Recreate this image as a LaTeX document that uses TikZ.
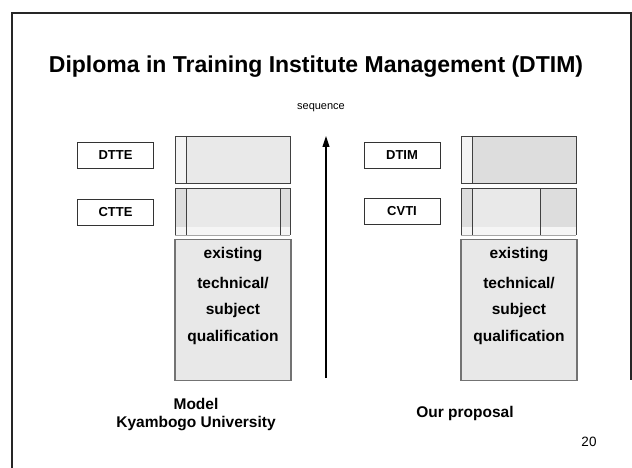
\documentclass[tikz,border=0pt]{standalone}
\usepackage{fontspec}
\setmainfont{Liberation Sans}
\usetikzlibrary{arrows.meta}
\begin{document}
\begin{tikzpicture}[x=1pt,y=-1pt,
  label box/.style={draw=black!80,line width=0.9pt,fill=white,minimum width=76pt,minimum height=26pt,inner sep=0pt,font=\bfseries\fontsize{13}{15}\selectfont},
  light/.style={fill=gray!9},
  mid/.style={fill=gray!17},
  dark/.style={fill=gray!27},
  bar edge/.style={draw=black!75,line width=0.8pt},
  base box/.style={draw=black!55,line width=1.2pt,fill=gray!18},
  qual/.style={font=\bfseries\fontsize{15.5}{18}\selectfont},
  caption/.style={font=\bfseries\fontsize{15.5}{18}\selectfont,align=center}]
\useasboundingbox (0,0) rectangle (632,468);
% slide frame
\draw[line width=1.4pt,black!85] (12,468) -- (12,13) -- (631,13) -- (631,380);
% title
\node[font=\bfseries\fontsize{23}{26}\selectfont] (title) at (316,67) {Diploma in Training Institute Management (DTIM)};
\node[font=\fontsize{11}{13}\selectfont] (seq) at (321,108) {sequence};
% sequence arrow
\coordinate (arrowfoot) at (326,378);
\coordinate (arrowtip) at (326,136);
\draw[line width=1.1pt,-{Triangle[length=11pt,width=7pt]}] (arrowfoot) -- (arrowtip);

% ---- left column: model ----
\node[label box] (dtte) at (115.5,155.5) {DTTE};
\node[label box] (ctte) at (115.5,212) {CTTE};
% DTTE bar
\path[light] (175,136) rectangle (186,183);
\path[mid] (186,136) rectangle (290,183);
\draw[bar edge] (175,136) rectangle (290,183);
\draw[bar edge] (186,136) -- (186,183);
% CTTE bar
\path[dark] (175,188) rectangle (186,227);
\path[mid] (186,188) rectangle (280,227);
\path[dark] (280,188) rectangle (290,227);
\path[fill=gray!8] (175,227) rectangle (290,235);
\draw[bar edge] (175,235) -- (175,188) -- (290,188) -- (290,235);
\draw[bar edge] (186,188) -- (186,235);
\draw[bar edge] (280,188) -- (280,235);
\draw[black!35,line width=0.8pt] (175,235) -- (290,235);
% base qualification
\node[base box,minimum width=116pt,minimum height=141pt,inner sep=0pt] (baseL) at (233,310) {};
\node[qual] (exL) at (233,255) {existing};
\node[qual] (teL) at (233,283) {technical/};
\node[qual] (suL) at (233,310) {subject};
\node[qual] (quL) at (233,337) {qualification};
\node[caption] (model) at (196,415) {Model\\Kyambogo University};

% ---- right column: proposal ----
\node[label box] (dtim) at (402,155) {DTIM};
\node[label box] (cvti) at (402,211.5) {CVTI};
% DTIM bar
\path[light] (461,136) rectangle (472,183);
\path[dark] (472,136) rectangle (576,183);
\draw[bar edge] (461,136) rectangle (576,183);
\draw[bar edge] (472,136) -- (472,183);
% CVTI bar
\path[dark] (461,188) rectangle (472,227);
\path[mid] (472,188) rectangle (540,227);
\path[dark] (540,188) rectangle (576,227);
\path[fill=gray!8] (461,227) rectangle (576,235);
\draw[bar edge] (461,235) -- (461,188) -- (576,188) -- (576,235);
\draw[bar edge] (472,188) -- (472,235);
\draw[bar edge] (540,188) -- (540,235);
\draw[black!35,line width=0.8pt] (461,235) -- (576,235);
% base qualification
\node[base box,minimum width=116pt,minimum height=141pt,inner sep=0pt] (baseR) at (519,310) {};
\node[qual] (exR) at (519,255) {existing};
\node[qual] (teR) at (519,283) {technical/};
\node[qual] (suR) at (519,310) {subject};
\node[qual] (quR) at (519,337) {qualification};
\node[caption] (proposal) at (465,413) {Our proposal};

% page number
\node[font=\fontsize{13.5}{15}\selectfont] (page) at (589,442) {20};
\end{tikzpicture}
\end{document}
